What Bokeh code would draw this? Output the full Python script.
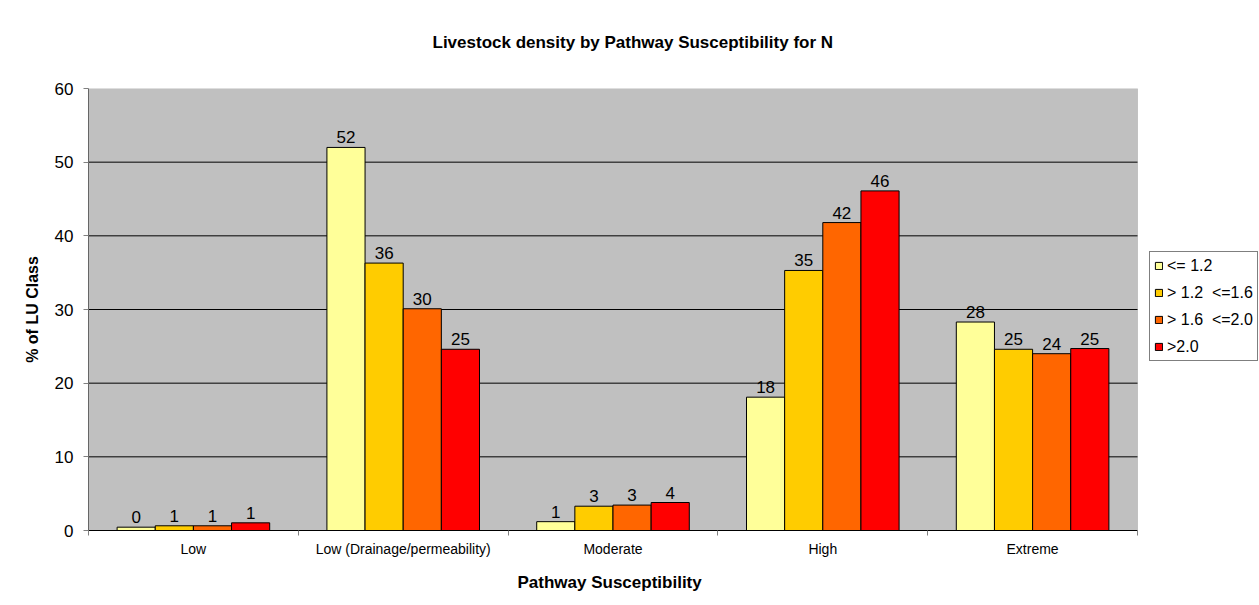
from bokeh.plotting import figure
from bokeh.models import (ColumnDataSource, Range1d, FixedTicker, Legend, LegendItem, Title,
                          BoxAnnotation)
from bokeh.transform import dodge
from bokeh.core.properties import value
from bokeh.embed import file_html
from bokeh.resources import INLINE

categories = ["Low", "Low (Drainage/permeability)", "Moderate", "High", "Extreme"]
series_names = ["<= 1.2", "> 1.2  <=1.6", "> 1.6  <=2.0", ">2.0"]
s1 = [0.45, 52.0, 1.2, 18.1, 28.3]
s2 = [0.64, 36.3, 3.3, 35.3, 24.6]
s3 = [0.64, 30.1, 3.45, 41.8, 24.0]
s4 = [1.04, 24.6, 3.8, 46.1, 24.7]
colors = ["#FFFF99", "#FFCC00", "#FF6600", "#FF0000"]
y_ticks = [0, 10, 20, 30, 40, 50, 60]
title_text = "Livestock density by Pathway Susceptibility for N"
x_title = "Pathway Susceptibility"
y_title = "% of LU Class"

FONT = "Liberation Sans"
series = [s1, s2, s3, s4]
ncat = len(categories)
data = {"idx": list(range(ncat))}
for k, s in enumerate(series):
    data[f"s{k}"] = s
    data[f"l{k}"] = [f"{v:.0f}" for v in s]
src = ColumnDataSource(data)

# layout: plot area 1049 px wide, plus legend room inside the frame on the right
W, H = 1259, 605
LEFT, TOP, BOTTOM = 88, 88, 75
AREA_W = 1049
LEGEND_ROOM = W - LEFT - AREA_W
x0, x1 = -0.5, ncat - 0.5
x_end = x1 + LEGEND_ROOM * (x1 - x0) / AREA_W

p = figure(width=W, height=H, x_range=Range1d(x0, x_end), y_range=Range1d(y_ticks[0], y_ticks[-1]),
           title=None, output_backend="svg", toolbar_location=None,
           min_border_left=LEFT, min_border_right=0, min_border_top=TOP, min_border_bottom=BOTTOM,
           background_fill_color="white", border_fill_color="white", outline_line_color=None)

# spacer nearest the frame, then the real title above it
spacer = Title(text=" ", text_font=FONT, text_font_size="17px", text_color="white")
if "standoff" in Title.properties():
    spacer.standoff = 0
p.add_layout(spacer, "above")
main_title = Title(text=title_text, align="left", offset=344,
                   text_font=FONT, text_font_size="17px", text_font_style="bold",
                   text_color="black")
if "standoff" in Title.properties():
    main_title.standoff = 32
p.add_layout(main_title, "above")

# grey plot area
p.add_layout(BoxAnnotation(left=x0, right=x1, bottom=y_ticks[0], top=y_ticks[-1],
                           fill_color="#C0C0C0", fill_alpha=1, line_color="#808080",
                           line_width=1, level="underlay"))

# gridlines
gy = y_ticks[1:-1]
p.segment(x0=[x0] * len(gy), x1=[x1] * len(gy), y0=gy, y1=gy, line_color="black", line_width=1)

bw = 1 / 5.5
offsets = [-1.5 * bw, -0.5 * bw, 0.5 * bw, 1.5 * bw]
renderers = []
for k in range(4):
    r = p.vbar(x=dodge("idx", offsets[k], range=p.x_range), top=f"s{k}", bottom=0, width=bw,
               source=src, fill_color=colors[k], line_color="black", line_width=1)
    renderers.append(r)
    p.text(x=dodge("idx", offsets[k], range=p.x_range), y=f"s{k}", text=f"l{k}", source=src,
           text_align="center", text_baseline="alphabetic", y_offset=-10,
           text_font=value(FONT), text_font_size="17px", text_color="black")

# x axis
xa = p.xaxis[0]
xa.bounds = (x0, x1)
xa.ticker = FixedTicker(ticks=list(range(ncat)), minor_ticks=[i - 0.5 for i in range(ncat + 1)])
xa.major_label_overrides = {i: c for i, c in enumerate(categories)}
xa.major_tick_line_color = None
xa.major_tick_out = 0
xa.major_tick_in = 0
xa.minor_tick_line_color = "#808080"
xa.minor_tick_in = 0
xa.minor_tick_out = 5
xa.axis_line_color = "black"
xa.major_label_text_font = FONT
xa.major_label_text_font_size = "14px"
xa.major_label_text_color = "black"
xa.major_label_standoff = 5

# x axis title, centred under the grey plot area
xt = Title(text=x_title, align="left", offset=429,
           text_font=FONT, text_font_size="17px", text_font_style="bold", text_color="black")
if "standoff" in Title.properties():
    xt.standoff = 22
p.add_layout(xt, "below")

# y axis
ya = p.yaxis[0]
ya.ticker = FixedTicker(ticks=y_ticks)
ya.axis_line_color = "#666666"
ya.major_tick_line_color = "#808080"
ya.major_tick_in = 0
ya.major_tick_out = 5
ya.minor_tick_line_color = None
ya.minor_tick_out = 0
ya.major_label_text_font = FONT
ya.major_label_text_font_size = "17px"
ya.major_label_text_color = "black"
ya.major_label_standoff = 10
ya.axis_label = y_title
ya.axis_label_text_font = FONT
ya.axis_label_text_font_size = "16px"
ya.axis_label_text_font_style = "bold"
ya.axis_label_text_color = "black"
ya.axis_label_standoff = 11

p.xgrid.visible = False
p.ygrid.visible = False

legend = Legend(items=[LegendItem(label=n, renderers=[r]) for n, r in zip(series_names, renderers)],
                location=(AREA_W + 12, 169), orientation="vertical",
                border_line_color="black", border_line_width=1,
                background_fill_color="white", background_fill_alpha=1,
                label_text_font=FONT, label_text_font_size="16px", label_text_color="black",
                glyph_width=9, glyph_height=9, label_height=19, spacing=8,
                padding=4, margin=0, label_standoff=4)
p.add_layout(legend)

open("out.html", "w").write(file_html(p, INLINE))
